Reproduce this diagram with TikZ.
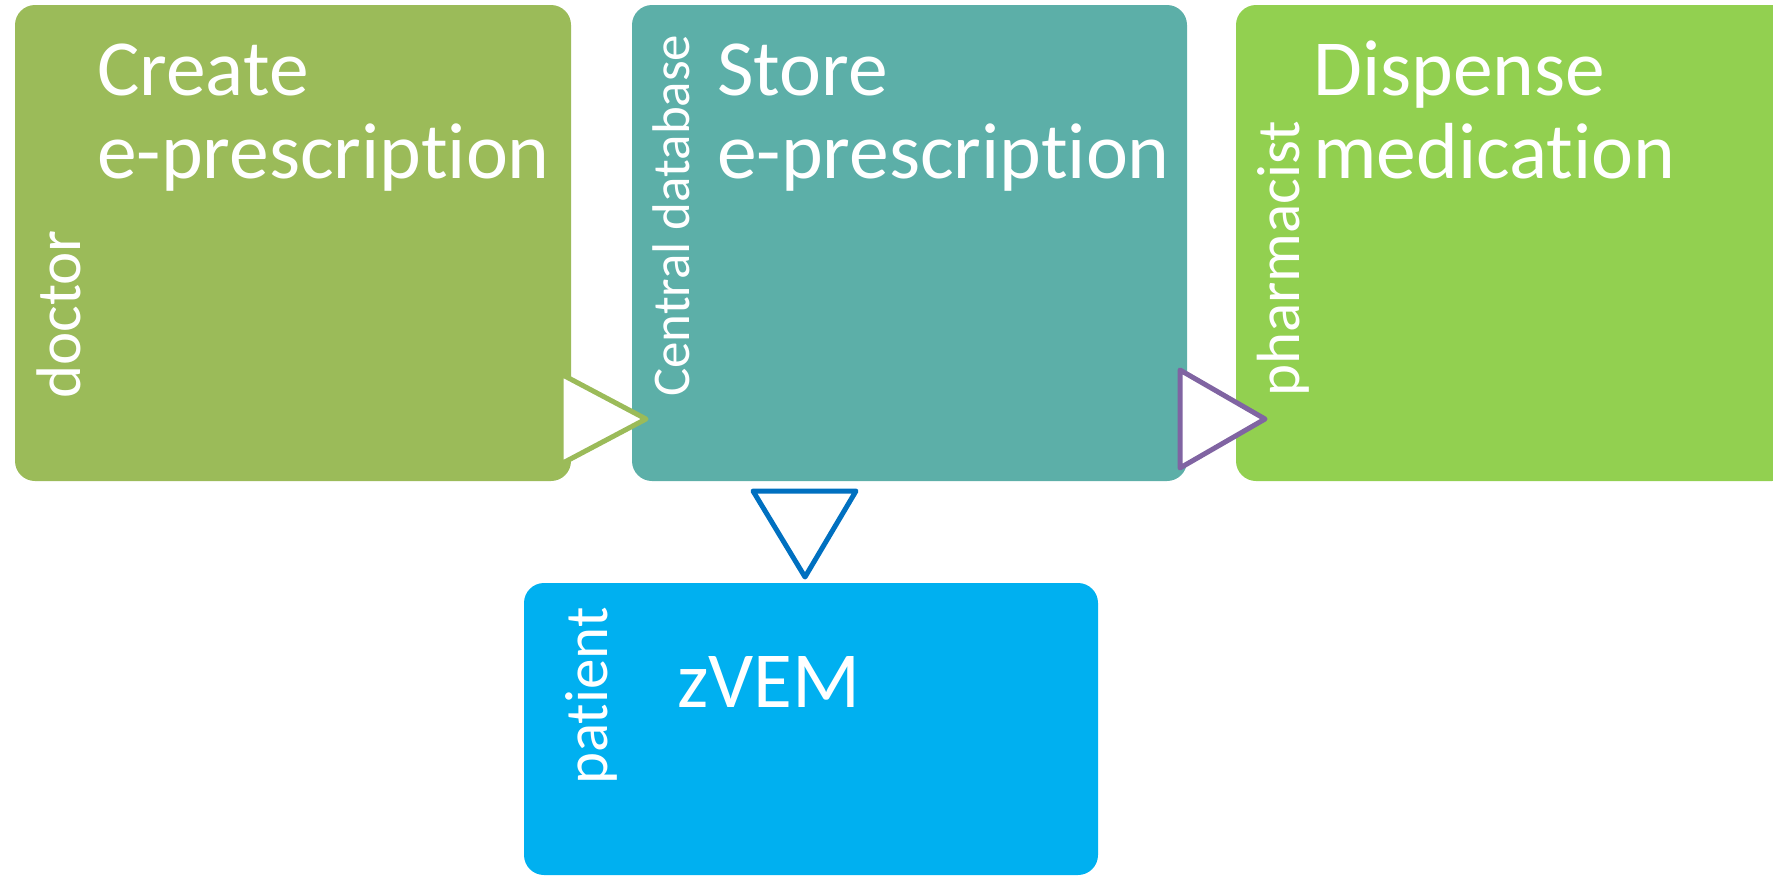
\documentclass[tikz,border=0pt]{standalone}
\usepackage{fontspec}
\setmainfont{Carlito}[RawFeature=-liga]
\definecolor{doctorgreen}{HTML}{9BBB59}
\definecolor{dbteal}{HTML}{5CAFA8}
\definecolor{pharmgreen}{HTML}{92D050}
\definecolor{patientblue}{HTML}{00B0F0}
\definecolor{arrowpurple}{HTML}{8064A2}
\definecolor{arrowblue}{HTML}{0070C0}
\tikzset{
  box/.style={rounded corners=20pt,inner sep=0pt},
  title/.style={text=white,align=left,inner sep=0pt,anchor=base west,font=\fontsize{79.5}{83}\selectfont},
  role/.style={text=white,rotate=90,inner sep=0pt,anchor=base west},
  tri/.style={line width=5pt,fill=white,line join=round}
}

\begin{document}
\begin{tikzpicture}[x=1pt,y=-1pt]
	\useasboundingbox (0,0) rectangle (1773,876);
	\clip (0,0) rectangle (1773,876);
	% the four steps
	\node[box,fill=doctorgreen,minimum width=556pt,minimum height=476pt] (doctor) at (293,243) {};
	\node[box,fill=dbteal,minimum width=555pt,minimum height=476pt] (store) at (909.5,243) {};
	\node[box,fill=pharmgreen,minimum width=556pt,minimum height=476pt] (dispense) at (1514,243) {};
	\node[box,fill=patientblue,minimum width=574pt,minimum height=292pt] (patient) at (811,729) {};
	% arrows between them
	\draw[tri,draw=doctorgreen] (561,374) -- (646,419) -- (561,464) -- cycle;
	\draw[tri,draw=arrowpurple] (1180,370) -- (1265,419) -- (1180,468) -- cycle;
	\draw[tri,draw=arrowblue] (753,491) -- (856,491) -- (805,577) -- cycle;
	% texts (base = last line)
	\node[title] (doctortitle) at (97,178) {Create\\e-prescription};
	\node[title] (storetitle) at (717,178) {Store\\e-prescription};
	\node[title] (dispensetitle) at (1313,178) {Dispense\\medication};
	\node[title] (patienttitle) at (677,707) {zVEM};
	\node[role,font=\fontsize{63}{63}\selectfont] (doctorrole) at (80,399) {doctor};
	\node[role,font=\fontsize{53}{53}\selectfont] (storerole) at (689,397) {Central database};
	\node[role,font=\fontsize{61}{61}\selectfont] (dispenserole) at (1299,397) {pharmacist};
	\node[role,font=\fontsize{61}{61}\selectfont] (patientrole) at (607,785) {patient};
\end{tikzpicture}
\end{document}
